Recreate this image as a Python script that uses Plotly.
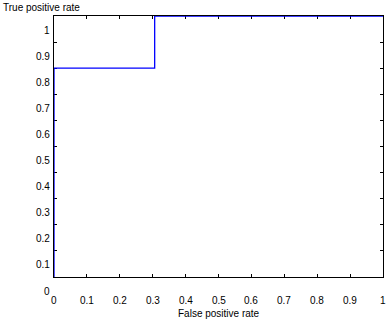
import plotly.graph_objects as go

# ROC curve points
fpr = [0, 0, 0.306, 0.306, 1]
tpr = [0, 0.8, 0.8, 1, 1]

x_ticks = [0, 0.1, 0.2, 0.3, 0.4, 0.5, 0.6, 0.7, 0.8, 0.9, 1]
x_tick_labels = ["0", "0.1", "0.2", "0.3", "0.4", "0.5", "0.6", "0.7", "0.8", "0.9", "1"]
y_ticks = [0, 0.1, 0.2, 0.3, 0.4, 0.5, 0.6, 0.7, 0.8, 0.9, 1]
y_tick_labels = ["0", "0.1", "0.2", "0.3", "0.4", "0.5", "0.6", "0.7", "0.8", "0.9", "1"]

x_title = "False positive rate"
y_title = "True positive rate"

FONT = dict(family="Liberation Sans, Arial, sans-serif", size=10, color="black")

fig = go.Figure()
fig.add_trace(go.Scatter(x=fpr, y=tpr, mode="lines",
                         line=dict(color="rgb(0,0,255)", width=1.3),
                         cliponaxis=False, hoverinfo="skip", showlegend=False))

axis_common = dict(range=[0, 1], showgrid=False, zeroline=False,
                   showline=True, linecolor="black", linewidth=1,
                   mirror="ticks", ticks="inside", ticklen=3, tickcolor="black",
                   tickwidth=1, showticklabels=False, layer="below traces",
                   fixedrange=True)

fig.update_xaxes(tickvals=x_ticks, **axis_common)
fig.update_yaxes(tickvals=y_ticks, **axis_common)

annotations = []
for v, t in zip(x_ticks, x_tick_labels):
    annotations.append(dict(x=v, xref="x", y=0, yref="paper", text=t,
                            showarrow=False, yshift=-23, yanchor="middle",
                            xanchor="center", font=FONT))
for v, t in zip(y_ticks, y_tick_labels):
    annotations.append(dict(x=0, xref="paper", y=v, yref="y", text=t,
                            showarrow=False, xshift=-2, yshift=-14,
                            xanchor="right", yanchor="middle", font=FONT))
annotations.append(dict(x=0.5, xref="paper", y=0, yref="paper", text=x_title,
                        showarrow=False, yshift=-36, yanchor="middle",
                        xanchor="center", font=FONT))
annotations.append(dict(x=0, xref="paper", y=1, yref="paper", text=y_title,
                        showarrow=False, xshift=-53, yshift=9,
                        xanchor="left", yanchor="middle", font=FONT))

fig.update_layout(width=391, height=320,
                  margin=dict(l=54, r=8, t=16, b=43),
                  paper_bgcolor="white", plot_bgcolor="white",
                  annotations=annotations, showlegend=False)

fig.write_html("out.html", config={"displayModeBar": False},
               post_script="document.body.style.margin='0';document.body.style.overflow='hidden';")
